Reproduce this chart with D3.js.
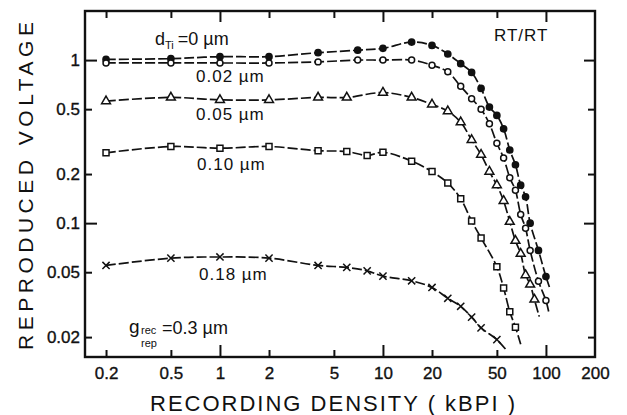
<!doctype html>
<html lang="en">
<head>
<meta charset="utf-8">
<title>reproduced voltage vs recording density</title>
<script src="https://cdn.jsdelivr.net/npm/d3@7"></script>
<style>
    body { margin: 0; background: #fff; }
    svg { display: block; font-family: "Liberation Sans", Arial, sans-serif; }
</style>
</head>
<body>
<svg></svg>
<script>
    var width = 627;
    var height = 415;

    // tick values
    var xTicks = [0.2, 0.5, 1, 2, 5, 10, 20, 50, 100, 200];
    var yTicks = [0.02, 0.05, 0.1, 0.2, 0.5, 1];

    // d_Ti = 0 um (filled circles)
    var x0 = [0.2, 0.5, 1, 2, 4, 7, 10, 15, 20, 25, 30, 35, 40, 45, 50, 55, 60, 65, 70, 75, 80, 90, 100];
    var y0 = [1.01, 1.02, 1.05, 1.05, 1.11, 1.15, 1.18, 1.29, 1.23, 1.09, 0.95, 0.84, 0.67, 0.515, 0.458, 0.379, 0.281, 0.228, 0.171, 0.145, 0.10, 0.068, 0.047];
    // 0.02 um (open circles)
    var x1 = [0.2, 0.5, 1, 2, 4, 7, 10, 15, 20, 25, 30, 35, 40, 45, 50, 55, 60, 65, 70, 75, 80, 90, 100];
    var y1 = [0.96, 0.96, 0.96, 0.96, 0.975, 1.0, 1.0, 1.0, 0.93, 0.847, 0.69, 0.58, 0.50, 0.407, 0.309, 0.251, 0.19, 0.159, 0.113, 0.093, 0.068, 0.044, 0.0335];
    // 0.05 um (triangles)
    var x2 = [0.2, 0.5, 1, 2, 4, 6, 10, 15, 20, 25, 30, 35, 40, 45, 50, 55, 60, 65, 70, 75, 80, 85];
    var y2 = [0.56, 0.59, 0.57, 0.57, 0.59, 0.59, 0.632, 0.59, 0.535, 0.486, 0.416, 0.324, 0.263, 0.207, 0.171, 0.137, 0.102, 0.078, 0.065, 0.048, 0.042, 0.034];
    // 0.10 um (squares)
    var x3 = [0.2, 0.5, 1, 2, 4, 6, 8, 10, 15, 20, 25, 30, 35, 40, 50, 55, 60, 65];
    var y3 = [0.27, 0.295, 0.288, 0.295, 0.278, 0.275, 0.26, 0.272, 0.24, 0.207, 0.176, 0.141, 0.103, 0.081, 0.054, 0.040, 0.0286, 0.023];
    // 0.18 um (crosses)
    var x4 = [0.2, 0.5, 1, 2, 4, 6, 8, 10, 15, 20, 25, 30, 35, 40, 50];
    var y4 = [0.055, 0.061, 0.062, 0.061, 0.055, 0.0535, 0.051, 0.0473, 0.0443, 0.0403, 0.0346, 0.0309, 0.0265, 0.0228, 0.0193];

    // where each drawn curve runs out past its last marker
    var endX = [105, 104, 91, 70, 57];
    var endY = [0.0406, 0.0286, 0.0267, 0.0181, 0.0167];

    var xs = [x0, x1, x2, x3, x4];
    var ys = [y0, y1, y2, y3, y4];

    var svg = d3.select('svg').attr('width', width).attr('height', height);

    var xScale = d3.scaleLog().domain([0.1486, 200]).range([85, 595]);
    var yScale = d3.scaleLog().domain([0.0151, 2.0]).range([357, 11]);

    var isDecade = function (d) { return Math.abs(Math.log10(d) - Math.round(Math.log10(d))) < 1e-9; };
    var fmt = d3.format('~g');

    // bottom axis with labels, ticks inward
    var gx = svg.append('g')
        .attr('transform', 'translate(0,357)')
        .call(d3.axisBottom(xScale).tickValues(xTicks).tickFormat(fmt).tickSize(-7).tickPadding(10));
    // top axis, ticks only
    var gxt = svg.append('g')
        .attr('transform', 'translate(0,11)')
        .call(d3.axisTop(xScale).tickValues(xTicks.slice(0, -1)).tickFormat('').tickSize(-7));
    // left axis with labels
    var gy = svg.append('g')
        .attr('transform', 'translate(85,0)')
        .call(d3.axisLeft(yScale).tickValues(yTicks).tickFormat(fmt).tickSize(-7).tickPadding(5));
    // right axis, ticks only
    var gyr = svg.append('g')
        .attr('transform', 'translate(595,0)')
        .call(d3.axisRight(yScale).tickValues(yTicks).tickFormat('').tickSize(-7));

    [gx, gxt, gy, gyr].forEach(function (g) {
        g.select('.domain').remove();
        g.selectAll('.tick line').attr('stroke', '#111').attr('stroke-width', 2);
        g.selectAll('text').attr('fill', '#111').attr('stroke', '#111').attr('stroke-width', 0.35);
        g.attr('font-size', 17).attr('font-family', '"Liberation Sans", Arial, sans-serif');
    });
    gx.selectAll('.tick line').attr('y2', function (d) { return d === 200 ? 0 : (isDecade(d) ? -12 : -7); });
    gxt.selectAll('.tick line').attr('y2', function (d) { return isDecade(d) ? 11 : 7; });
    gy.selectAll('.tick line').attr('x2', function (d) { return isDecade(d) ? 12 : 7; });
    gyr.selectAll('.tick line').attr('x2', function (d) { return isDecade(d) ? -11 : -7; });

    // frame
    svg.append('rect')
        .attr('x', 85).attr('y', 11)
        .attr('width', 510).attr('height', 346)
        .attr('fill', 'none')
        .attr('stroke', '#111')
        .attr('stroke-width', 2.4);

    // curves
    var line = d3.line()
        .x(function (d) { return xScale(d[0]); })
        .y(function (d) { return yScale(d[1]); })
        .curve(d3.curveCatmullRom.alpha(0.5));

    xs.forEach(function (xv, i) {
        var pts = xv.map(function (v, j) { return [v, ys[i][j]]; });
        pts.push([endX[i], endY[i]]);
        svg.append('path')
            .attr('d', line(pts))
            .attr('fill', 'none')
            .attr('stroke', '#111')
            .attr('stroke-width', 1.7)
            .attr('stroke-dasharray', '10,3');
    });

    // marker shapes
    var timesType = {
        draw: function (ctx, size) {
            var r = Math.sqrt(size) / 2;
            ctx.moveTo(-r, -r); ctx.lineTo(r, r);
            ctx.moveTo(r, -r); ctx.lineTo(-r, r);
        }
    };
    var markers = [
        { type: d3.symbolCircle, size: 30, fill: '#111' },
        { type: d3.symbolCircle, size: 28, fill: '#fff' },
        { type: d3.symbolTriangle, size: 34, fill: '#fff' },
        { type: d3.symbolSquare, size: 36, fill: '#fff' },
        { type: timesType, size: 52, fill: 'none' }
    ];

    xs.forEach(function (xv, i) {
        var m = markers[i];
        svg.append('g').selectAll('path')
            .data(xv.map(function (v, j) { return [v, ys[i][j]]; }))
            .enter()
            .append('path')
            .attr('transform', function (d) { return 'translate(' + xScale(d[0]) + ',' + yScale(d[1]) + ')'; })
            .attr('d', d3.symbol().type(m.type).size(m.size))
            .attr('fill', m.fill)
            .attr('stroke', '#111')
            .attr('stroke-width', 1.5);
    });

    // curve labels
    var lab = svg.append('g').attr('fill', '#111');
    var dti = lab.append('text').attr('x', 155).attr('y', 45).attr('font-size', 18);
    dti.append('tspan').text('d');
    dti.append('tspan').attr('font-size', 11).attr('dy', 4).text('Ti');
    dti.append('tspan').attr('dy', -4).attr('dx', 4).text('=0 µm');

    var thick = ['0.02 µm', '0.05 µm', '0.10 µm', '0.18 µm'];
    var thickX = [196, 196, 197, 199];
    var thickY = [82, 120, 170, 280];
    thick.forEach(function (t, i) {
        lab.append('text')
            .attr('x', thickX[i]).attr('y', thickY[i])
            .attr('font-size', 17)
            .attr('letter-spacing', 1)
            .text(t);
    });

    lab.append('text').attr('x', 494).attr('y', 41).attr('font-size', 17).attr('letter-spacing', 1).text('RT/RT');

    lab.append('text').attr('x', 129).attr('y', 333).attr('font-size', 19).text('g');
    lab.append('text').attr('x', 141).attr('y', 334).attr('font-size', 11).text('rec');
    lab.append('text').attr('x', 141).attr('y', 347).attr('font-size', 11).text('rep');
    lab.append('text').attr('x', 162).attr('y', 334).attr('font-size', 18).text('=0.3 µm');

    // axis titles
    svg.append('text')
        .attr('x', 150).attr('y', 411)
        .attr('font-size', 22)
        .attr('fill', '#111')
        .attr('textLength', 365)
        .attr('lengthAdjust', 'spacing')
        .text('RECORDING DENSITY ( kBPI )');

    svg.append('text')
        .attr('transform', 'translate(33,350) rotate(-90)')
        .attr('font-size', 21)
        .attr('fill', '#111')
        .attr('textLength', 328)
        .attr('lengthAdjust', 'spacing')
        .text('REPRODUCED VOLTAGE');
</script>
</body>
</html>
